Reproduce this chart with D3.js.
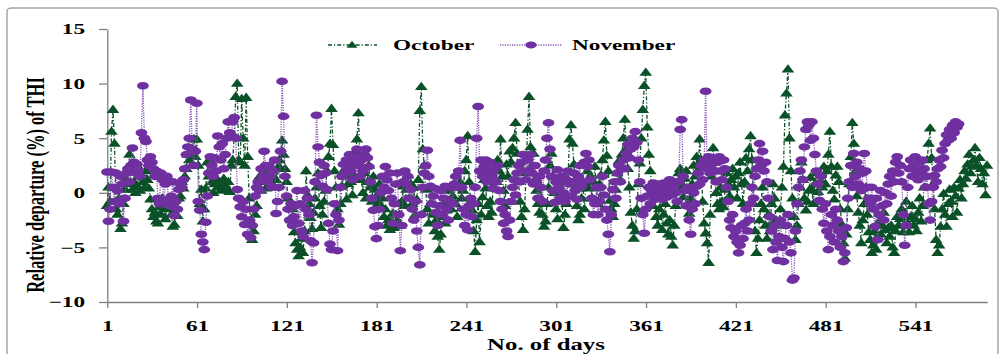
<!DOCTYPE html>
<html>
<head>
<meta charset="utf-8">
<script src="https://cdn.jsdelivr.net/npm/d3@7"></script>
<style>
  body { margin: 0; background: #fff; }
  svg { display: block; }
  text { font-family: "Liberation Serif", "Times New Roman", serif; font-weight: bold; }
</style>
</head>
<body>
<svg id="chart"></svg>
<script>
// Relative departure (%) of THI, one value per day
const octoberValues = [
  -1.2, 0.5, -0.8, 5.6, 7.6, 4.5, -1.5, -2.0, -0.5, -3.3,
  -2.8, -1.0, 0.3, 1.2, 2.0, 3.5, 0.8, 0.3, 1.0, 0.0,
  0.6, 1.5, 0.2, 2.0, 1.0, 0.5, 2.0, 1.2, 0.4, -0.6,
  -1.5, -2.2, -1.8, -2.6, -2.8, -1.3, -2.0, -0.5, -1.0, -2.4,
  -1.5, -0.8, -1.2, -2.0, -3.1, -2.9, -1.5, -2.1, -0.5, -0.3,
  1.0, 0.4, 1.5, 2.2, 3.5, 3.0, 3.6, 4.0, 4.9, 3.3,
  4.9, 2.5, -1.0, 0.3, -2.6, -1.5, 0.4, 2.8, 1.5, 3.0,
  1.0, 0.0, 0.8, 1.2, 0.5, 1.0, 0.2, 0.9, 1.3, 0.6,
  0.3, 1.0, 0.1, 2.5, 3.0, 5.2, 8.8, 10.0, 3.0, 2.8,
  8.6, 5.0, 2.5, 8.7, 3.3, -0.5, -2.9, -4.3, -3.5, -2.0,
  -1.2, 0.5, 1.5, 0.2, 1.8, 1.0, 0.4, 2.0, 1.3, 0.8,
  1.5, 2.0, 0.5, 1.2, 2.3, 3.0, 2.2, 4.8, 3.5, 2.2,
  1.0, -0.5, -1.3, -2.5, -1.5, -3.6, -4.6, -5.2, -5.8, -5.0,
  -4.2, -5.5, -3.5, 2.0, -0.2, -1.0, -2.3, -3.3, -1.8, -0.5,
  0.5, 1.8, -1.2, -3.2, -2.0, -0.8, 0.2, 2.0, 3.3, 4.5,
  7.7, 4.4, 2.0, 0.5, -1.5, -2.9, -1.0, 0.6, 1.5, 2.2,
  -0.6, 0.8, 2.4, 1.0, -0.2, 1.6, 3.8, 4.9, 7.3, 2.7,
  1.2, 0.0, 1.8, -0.5, 1.0, 2.5, 0.5, -0.8, 1.5, 0.3,
  -0.3, -1.0, 0.8, -1.2, -0.5, -2.2, -1.5, -3.0, -2.5, -3.4,
  -2.8, -1.9, -3.2, -2.0, -2.6, -1.0, -3.0, -0.8, 0.6, -1.2,
  0.3, 1.6, -0.5, 0.8, -1.0, 0.5, -2.0, -0.6, 1.2, 7.5,
  9.7, 4.0, 2.5, 0.3, -1.5, -2.8, -1.0, 0.5, -2.0, -3.5,
  -2.5, -4.0, -5.2, -3.8, -2.2, -1.0, -2.8, -1.6, 0.2, -0.8,
  -1.5, -0.3, 0.8, -1.0, -2.2, 0.5, 1.0, -0.5, 0.2, 2.0,
  3.0, 5.2, 1.0, -0.8, -1.6, -3.5, -5.4, -2.5, -1.0, -4.5,
  -2.0, -0.4, 1.2, 0.4, -1.2, -2.2, -0.8, -1.8, 0.6, 2.2,
  1.0, 3.0, 2.0, 4.9, 1.5, 0.2, -1.2, 2.6, 1.5, 3.8,
  2.8, 4.1, 5.0, 6.4, 3.6, 1.0, -0.8, -2.2, -3.4, -1.5,
  1.8, 5.8, 8.8, 4.2, 2.5, 3.6, 1.2, 0.2, -1.0, -1.8,
  -0.5, -2.0, -3.1, -2.6, -1.0, 0.5, 2.5, 3.6, 1.5, 0.0,
  -1.5, -2.4, -0.6, 1.0, -0.8, -3.2, -2.0, -1.0, 1.2, 4.9,
  6.2, 4.5, 2.6, 0.5, -1.2, -2.5, -2.0, -0.5, 1.0, -1.5,
  0.8, 2.0, 0.4, 1.5, -0.5, 1.0, 2.4, 0.5, -1.0, 0.8,
  1.6, 3.0, 4.8, 6.5, 3.4, 2.0, -0.7, -1.5, -2.2, -1.0,
  0.3, 1.8, 2.9, 1.2, 3.5, 5.0, 6.7, 4.0, 2.2, 0.5,
  -1.8, -3.0, -4.2, -3.5, -1.5, 0.8, 2.7, 5.0, 7.6, 9.8,
  11.0, 6.0, 3.5, 2.0, 0.5, -1.2, -0.5, -2.2, -3.0, -1.5,
  -0.4, -3.4, -2.0, -1.0, -2.8, -3.8, -2.5, -4.0, -4.8, -3.0,
  -1.2, 0.5, 1.8, 2.2, 0.8, -0.4, 1.3, 2.0, -1.0, -1.9,
  -0.5, 0.8, 2.5, 1.5, 3.3, 2.0, 4.9, 3.0, -0.8, -2.8,
  -3.7, -4.6, -6.4, -2.0, 1.5, 4.1, 2.0, 0.0, -1.0, -1.5,
  0.5, -0.8, -1.3, 0.3, 1.8, 0.8, -0.3, 1.2, 2.2, 0.5,
  1.5, -0.5, 1.8, 2.8, 0.8, -1.0, 1.0, 3.2, 2.0, 4.0,
  5.2, 3.0, -1.0, -3.5, -5.5, -4.2, -2.5, -1.0, 0.5, -1.5,
  -3.0, -4.2, -2.0, -3.5, -1.0, 0.8, -0.5, -2.5, -4.5, -3.0,
  -1.5, 0.5, 2.4, 7.1, 9.1, 11.3, 5.0, 2.0, -0.5, -2.2,
  -4.3, -3.0, -1.0, 0.5, 2.8, 1.2, -0.5, -1.6, -0.8, 0.2,
  1.4, 0.3, -1.0, 0.8, 1.8, 0.1, -0.8, 1.0, 0.5, 2.4,
  0.8, 2.0, 3.5, 5.6, 2.4, 0.2, -0.6, 1.6, 2.4, 1.0,
  -1.5, -2.9, -4.6, -6.0, -3.8, -1.5, 0.8, 3.3, 6.4, 4.5,
  2.0, -0.3, -1.8, -3.0, -4.6, -2.5, -1.0, 0.5, -2.0, -3.6,
  -4.3, -5.5, -4.8, -3.5, -5.2, -4.0, -2.6, -3.8, -3.0, -1.8,
  -3.4, -4.6, -3.2, -4.0, -3.0, -5.0, -5.5, -3.5, -2.2, -3.0,
  -2.4, -1.5, -3.6, -2.0, -0.8, -2.8, -3.6, -2.2, -1.2, -3.0,
  -2.4, -3.5, -1.8, -0.5, -2.6, -1.2, 0.5, 1.5, 3.0, 4.5,
  5.9, 3.2, 0.8, -1.5, -4.3, -5.5, -4.8, -3.1, -1.5, -0.1,
  -2.0, -3.1, -1.0, 0.3, -0.8, -2.2, 0.5, -0.3, -1.8, 0.4,
  1.2, -0.5, 0.8, 2.0, 1.3, 2.6, 3.5, 1.8, 2.4, 3.0,
  4.1, 2.5, 1.0, 3.2, 2.2, 0.8, 1.8, -0.2, 2.5
];

const novemberValues = [
  1.9, -2.6, -1.5, 1.9, 0.5, -0.8, 1.8, 0.2, -1.0, 1.5,
  0.8, -2.6, -0.5, 1.8, 2.2, 1.0, 2.5, 4.1, 2.8, 1.8,
  2.6, 2.0, 1.5, 5.5, 9.8, 5.0, 4.7, 3.0, 2.5, 3.3,
  2.8, 2.2, 1.5, 2.0, -0.5, -1.0, 1.8, 1.2, -0.8, 0.8,
  1.5, -0.6, -1.2, -0.3, 1.0, -2.1, -0.8, -1.5, 0.3, 0.8,
  0.5, 1.2, 2.2, 3.5, 4.2, 5.0, 8.5, 4.0, 2.5, 3.8,
  8.2, -0.8, -1.6, -3.8, -4.5, -5.2, -2.7, -0.3, 1.8, 3.3,
  2.5, 1.5, 3.2, 2.0, 5.2, 4.2, 3.0, 4.5, 2.2, 3.5,
  5.0, 6.5, 5.5, 5.2, 6.5, 6.9, 5.0, 0.3, -0.5, -1.3,
  -2.2, -0.8, -2.9, -1.5, -3.8, -2.5, -4.1, -3.0, -1.5, -0.3,
  0.5, 1.0, 0.2, 2.2, 1.5, 3.8, 2.5, 1.0, 2.5, 1.5,
  0.5, 2.0, 3.0, -1.9, -0.8, 0.5, 3.8, 10.2, 7.0, 1.5,
  -0.3, -1.5, -2.5, -1.0, -3.0, -2.2, -1.2, 0.2, -2.8, -1.0,
  -3.5, -4.0, 0.2, -1.5, -0.5, -2.0, -4.4, -6.4, -4.6, 1.0,
  7.1, 4.2, 2.8, 1.6, 0.6, 2.5, 1.8, 0.3, -2.8, -4.7,
  -5.2, -3.5, -1.0, -2.0, -5.3, -2.5, 0.5, 1.5, 2.6, 1.8,
  3.0, 2.2, 3.5, 2.0, 1.2, 2.8, 3.3, 4.0, 2.5, 1.5,
  3.0, 2.0, 3.5, 4.0, 3.2, 2.4, 1.0, -0.5, -1.6, -3.1,
  -4.2, -3.0, -1.5, 0.0, 1.5, 0.5, 2.4, 1.2, 0.2, 1.8,
  -0.5, -2.8, -1.0, 0.8, 1.8, -2.0, -5.3, -3.0, 1.0, 2.0,
  0.8, 1.5, -0.5, 0.3, -1.5, -2.5, -0.8, -3.5, -5.0, -6.6,
  -2.0, 0.5, 1.8, 2.5, 3.9, 1.5, 0.6, -1.0, -0.3, 0.4,
  -1.8, -3.0, -1.2, 0.2, -2.0, -0.5, 0.6, -1.5, -2.5, -0.8,
  0.5, -1.0, 0.8, 1.5, 0.5, 2.0, 4.8, 0.5, -1.5, -3.0,
  -2.0, -3.4, -1.2, -0.5, -2.2, -1.0, 0.5, 5.0, 7.9, 2.0,
  3.0, 1.5, 2.4, 3.0, 1.0, 2.0, 2.8, 1.6, 0.4, 2.2,
  1.0, 2.5, 0.2, -0.8, -1.5, -2.8, -2.0, -3.5, -4.0, -2.5,
  -0.8, 0.5, 1.2, -0.2, 1.8, 2.5, 1.0, 2.8, 3.5, 2.0,
  1.2, 3.0, 2.0, 3.5, 1.8, 0.8, 2.5, 1.0, -0.5, 1.5,
  0.5, -0.8, 2.0, 3.0, 5.0, 6.4, 4.0, 1.5, 0.2, -0.9,
  1.0, 2.1, 0.5, -0.5, 1.5, 0.0, -0.8, 1.2, 2.0, 0.8,
  -0.3, 1.0, 1.8, 0.2, -0.6, 1.5, 2.5, 0.6, 1.0, 2.8,
  3.6, 2.4, 3.0, 1.2, -0.5, -2.0, -1.0, 0.5, -2.0, -0.8,
  0.5, 1.5, -0.2, -1.5, -2.5, -3.8, -5.4, -2.0, 0.3, 1.0,
  -0.5, 1.8, 2.5, 1.0, 2.2, 3.0, 2.2, 3.6, 4.4, 3.2,
  4.0, 5.0, 4.2, 5.6, 4.6, 3.0, 1.0, -0.5, -2.0, -3.7,
  -1.5, -0.3, 0.5, -1.0, 0.2, 0.9, -0.6, 0.4, -0.2, 0.8,
  0.0, -0.6, 0.9, 0.3, -0.4, 0.6, 1.2, -0.2, 0.5, 1.0,
  0.0, -0.8, 1.0, 5.8, 6.7, 1.5, 0.2, -1.2, 0.5, -2.5,
  -3.8, -1.5, 0.0, -1.0, 0.6, 1.8, 0.8, 2.5, 1.2, 3.0,
  9.3, 2.2, 3.3, 1.8, 2.6, 3.0, 2.0, 1.0, 2.8, 3.3,
  2.0, 1.2, 3.0, 2.2, 0.5, -0.8, -2.5, -3.2, -2.0, -4.0,
  -3.5, -4.5, -5.5, -4.8, -3.0, -4.2, -2.8, -1.5, -3.5, -2.5,
  -1.0, 0.5, -0.5, 1.5, 2.2, 3.0, 4.5, 2.5, 3.8, 2.0,
  2.8, 1.0, -0.5, -2.2, -3.5, -5.2, -3.0, -4.5, -6.2, -4.0,
  -2.5, -5.0, -6.3, -4.2, -3.0, -2.0, -4.5, -5.5, -8.0, -7.8,
  -3.5, -1.0, 0.5, 2.0, 3.0, 1.2, 4.2, 5.8, 6.5, 6.2,
  4.8, 6.5, 5.0, 3.5, 2.0, 0.8, -0.7, 1.5, -1.5, -2.8,
  -1.0, -3.5, -5.2, -4.0, -2.0, -3.0, -4.5, -1.5, -2.5, -3.5,
  -5.0, -4.0, -6.3, -5.5, -3.2, -0.5, 1.0, 2.5, 0.5, 3.6,
  1.5, 2.8, 0.8, 2.2, 0.2, 1.8, 3.6, 2.0, 0.5, -0.5,
  -1.0, 0.5, -1.5, -3.1, -0.5, -4.3, -2.0, 0.2, -1.2, -2.5,
  0.0, -1.0, 0.8, 1.5, -0.3, 2.0, 1.0, 2.8, 3.3, 1.8,
  2.5, 1.0, -2.0, -4.8, -3.0, 0.5, 2.2, 3.0, 1.5, 2.5,
  3.3, 2.0, 1.2, 2.8, 1.8, 3.0, 2.2, 0.5, 1.5, -1.0,
  -2.5, -0.8, 0.5, 1.6, 1.0, 2.2, 3.0, 2.4, 3.9, 3.2,
  4.5, 5.3, 4.8, 5.8, 5.0, 6.2, 5.5, 6.5, 6.0, 6.3
];

const xTicks = [1, 61, 121, 181, 241, 301, 361, 421, 481, 541];
const yTicks = [-10, -5, 0, 5, 10, 15];
const seriesNames = ["October", "November"];

// The source picture is stretched sideways, so draw in a narrower box and stretch it
const width = 1005;
const height = 354;
const SX = 1.55;
const rx = (px) => px / SX;

const octData = octoberValues.map((v, i) => ({ day: i + 1, value: v }));
const novData = novemberValues.map((v, i) => ({ day: i + 1, value: v }));

const svg = d3
  .select("#chart")
  .attr("width", width)
  .attr("height", height)
  .attr("viewBox", `0 0 ${width / SX} ${height}`)
  .attr("preserveAspectRatio", "none");

// chart frame
svg
  .append("rect")
  .attr("x", rx(7))
  .attr("y", 8)
  .attr("width", rx(991))
  .attr("height", height)
  .attr("rx", 3)
  .attr("fill", "#fff")
  .attr("stroke", "#a6a6a6")
  .attr("stroke-width", 1.5)
  .attr("vector-effect", "non-scaling-stroke");

const xScale = d3
  .scaleLinear()
  .domain([1, octoberValues.length])
  .range([rx(107), rx(987)]);

const yScale = d3.scaleLinear().domain([-10, 15]).range([302, 29]);

// Axes
const xAxis = d3.axisBottom(xScale).tickValues(xTicks).tickSize(6).tickSizeOuter(0).tickPadding(12);
const yAxis = d3.axisLeft(yScale).tickValues(yTicks).tickSize(rx(8)).tickSizeOuter(0).tickPadding(rx(14));

const gx = svg.append("g").attr("transform", `translate(0, ${yScale(-10)})`).call(xAxis);
const gy = svg.append("g").attr("transform", `translate(${rx(107)}, 0)`).call(yAxis);

[gx, gy].forEach((g) => {
  g.selectAll("path, line")
    .attr("stroke", "#808080")
    .attr("stroke-width", 1.3)
    .attr("vector-effect", "non-scaling-stroke");
  g.selectAll("text")
    .attr("fill", "#000")
    .style("font-family", '"Liberation Serif", "Times New Roman", serif')
    .style("font-weight", "bold")
    .style("font-size", "15px");
});

// Lines
const line = d3
  .line()
  .x((d) => xScale(d.day))
  .y((d) => yScale(d.value));

const octColor = "#0b5128";
const novColor = "#7030a0";

svg
  .append("path")
  .datum(octData)
  .attr("d", line)
  .attr("fill", "none")
  .attr("stroke", octColor)
  .attr("stroke-width", 1.3)
  .attr("stroke-dasharray", "4,2,1.2,2")
  .attr("vector-effect", "non-scaling-stroke");

// triangle marker, a little wider than tall once stretched
const triPath = (w, h) => `M0,${-h * 0.62}L${w / 2},${h * 0.38}L${-w / 2},${h * 0.38}Z`;

svg
  .selectAll(".tri")
  .data(octData)
  .enter()
  .append("path")
  .attr("class", "tri")
  .attr("d", triPath(8.2, 8.4))
  .attr("transform", (d) => `translate(${xScale(d.day)},${yScale(d.value)})`)
  .attr("fill", octColor);

svg
  .append("path")
  .datum(novData)
  .attr("d", line)
  .attr("fill", "none")
  .attr("stroke", "#8a55b8")
  .attr("stroke-width", 1.3)
  .attr("stroke-dasharray", "1.2,1.2")
  .attr("vector-effect", "non-scaling-stroke");

svg
  .selectAll(".dot")
  .data(novData)
  .enter()
  .append("circle")
  .attr("class", "dot")
  .attr("cx", (d) => xScale(d.day))
  .attr("cy", (d) => yScale(d.value))
  .attr("r", 3.8)
  .attr("fill", novColor);

// Legend
const legend = svg.append("g").attr("transform", "translate(0, 45)");

legend
  .append("line")
  .attr("x1", rx(328)).attr("x2", rx(377))
  .attr("stroke", octColor)
  .attr("stroke-width", 1.3)
  .attr("stroke-dasharray", "4,2,1.2,2")
  .attr("vector-effect", "non-scaling-stroke");
legend
  .append("path")
  .attr("d", triPath(7, 7))
  .attr("transform", `translate(${rx(352)},0)`)
  .attr("fill", octColor);
legend
  .append("text")
  .attr("x", rx(393)).attr("y", 5)
  .style("font-size", "15px")
  .text(seriesNames[0]);

legend
  .append("line")
  .attr("x1", rx(500)).attr("x2", rx(562))
  .attr("stroke", "#8a55b8")
  .attr("stroke-width", 1.3)
  .attr("stroke-dasharray", "1.2,1.2")
  .attr("vector-effect", "non-scaling-stroke");
legend
  .append("ellipse")
  .attr("cx", rx(531))
  .attr("rx", 3.6).attr("ry", 3.4)
  .attr("fill", novColor);
legend
  .append("text")
  .attr("x", rx(572)).attr("y", 5)
  .style("font-size", "15px")
  .text(seriesNames[1]);

// Axis titles
svg
  .append("text")
  .attr("transform", `translate(${rx(35)}, 185) rotate(-90)`)
  .attr("text-anchor", "middle")
  .attr("dy", "0.35em")
  .style("font-size", "16.5px")
  .text("Relative departure (%) of THI");

svg
  .append("text")
  .attr("x", rx(546))
  .attr("y", 350)
  .attr("text-anchor", "middle")
  .style("font-size", "16px")
  .text("No. of days");
</script>
</body>
</html>
